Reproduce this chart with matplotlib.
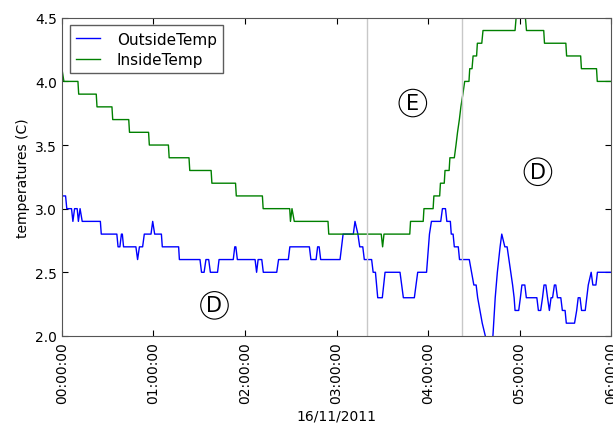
import matplotlib
matplotlib.use("Agg")
import matplotlib.pyplot as plt
import matplotlib.dates as mdates
import pandas as pd

# minutes after midnight and temperatures
inside_min = [0, 1.3, 10.5, 11, 22.5, 23, 32.8, 33.3, 43.8, 44.3, 56.8, 57.3, 69.8, 70.3,
              83.3, 83.8, 97.8, 98.3, 113.8, 114.3, 131.4, 131.9, 149.3, 149.8, 150.8,
              152.3, 174.4, 174.9, 209.3, 210.2, 211.1, 228, 228.5, 236.8, 237.3, 243.3,
              243.8, 247.6, 248.1, 250.6, 251.1, 253.8, 254.3, 257.2, 258.3, 259.3, 260.5,
              261.5, 262.8, 264, 266.8, 267.3, 268.8, 269.5, 271.8, 272.3, 275.2, 276,
              297, 297.7, 303.8, 304.5, 315.8, 316.3, 330.3, 330.8, 340, 340.5, 350.4,
              350.9, 360]
inside_val = [4.1, 4.0, 4.0, 3.9, 3.9, 3.8, 3.8, 3.7, 3.7, 3.6, 3.6, 3.5, 3.5, 3.4,
              3.4, 3.3, 3.3, 3.2, 3.2, 3.1, 3.1, 3.0, 3.0, 2.9, 3.0,
              2.9, 2.9, 2.8, 2.8, 2.7, 2.8, 2.8, 2.9, 2.9, 3.0, 3.0,
              3.1, 3.1, 3.2, 3.2, 3.3, 3.3, 3.4, 3.4, 3.5, 3.6, 3.7,
              3.8, 3.9, 4.0, 4.0, 4.1, 4.1, 4.2, 4.2, 4.3, 4.3, 4.4,
              4.4, 4.5, 4.5, 4.4, 4.4, 4.3, 4.3, 4.2, 4.2, 4.1, 4.1,
              4.0, 4.0]

outside_min = [0, 2.4, 3.2, 6.3, 7.2, 8.3, 10.0, 10.8, 11.9, 13.3, 25.2, 25.8, 36.0, 36.8,
               38.0, 39.0, 39.6, 40.4, 48.5, 49.6, 50.8, 52.9, 54.0, 58.4, 59.5, 60.8,
               65.2, 65.8, 76.5, 77.0, 90.5, 91.5, 93.2, 94.4, 96.2, 97.3, 102, 103,
               112.3, 113.3, 114, 115, 126.6, 127.6, 128.6, 131, 132, 140.8, 142, 148.4,
               149.4, 162.2, 163.2, 166.6, 167.6, 168.6, 169.6, 182.3, 184.3, 191, 192.1,
               194, 195.2, 197.2, 198.2, 203, 204, 205.5, 207, 210, 211.8, 221.6, 222.7,
               223.8, 231, 233.2, 239, 240.9, 242.2, 248.3, 249.4, 251.4, 252.3, 254.6,
               255.2, 256.4, 257.2, 259.8, 260.6, 267, 268.5, 270, 271.5, 272.5, 274,
               275.5, 277.5, 280, 282.5, 284, 285.4, 287.2, 288.3, 290.3, 291.8, 293,
               294.2, 295.4, 296.4, 297, 299.4, 300.5, 301.5, 303.4, 304.4, 311.3, 312.3,
               313.8, 315, 316, 317.2, 318.3, 319.5, 320.6, 321.6, 322.8, 323.7, 324.8,
               327, 328, 329.8, 330.6, 336, 337.4, 338.4, 339.6, 340.6, 343, 344, 345,
               346.9, 348, 350, 351, 360]
outside_val = [3.1, 3.1, 3.0, 3.0, 2.9, 3.0, 3.0, 2.9, 3.0, 2.9, 2.9, 2.8, 2.8, 2.7,
               2.7, 2.8, 2.8, 2.7, 2.7, 2.6, 2.7, 2.7, 2.8, 2.8, 2.9, 2.8,
               2.8, 2.7, 2.7, 2.6, 2.6, 2.5, 2.5, 2.6, 2.6, 2.5, 2.5, 2.6,
               2.6, 2.7, 2.7, 2.6, 2.6, 2.5, 2.6, 2.6, 2.5, 2.5, 2.6, 2.6,
               2.7, 2.7, 2.6, 2.6, 2.7, 2.7, 2.6, 2.6, 2.8, 2.8, 2.9,
               2.8, 2.7, 2.7, 2.6, 2.6, 2.5, 2.5, 2.3, 2.3, 2.5, 2.5, 2.4,
               2.3, 2.3, 2.5, 2.5, 2.8, 2.9, 2.9, 3.0, 3.0, 2.9, 2.9,
               2.8, 2.8, 2.7, 2.7, 2.6, 2.6, 2.5, 2.4, 2.4, 2.3, 2.2,
               2.1, 2.0, 1.9, 2.0, 2.3, 2.5, 2.7, 2.8, 2.7, 2.7, 2.6,
               2.5, 2.4, 2.3, 2.2, 2.2, 2.3, 2.4, 2.4, 2.3, 2.3, 2.2,
               2.2, 2.3, 2.4, 2.4, 2.3, 2.2, 2.3, 2.3, 2.4, 2.4, 2.3,
               2.3, 2.2, 2.2, 2.1, 2.1, 2.2, 2.3, 2.3, 2.2, 2.2, 2.3, 2.4,
               2.5, 2.4, 2.4, 2.5, 2.5]

# phase boundaries (minutes) and labels
phase_lines = [200, 262]
phase_labels = ["D", "E", "D"]
phase_pos = [(100, 2.24), (230, 3.83), (312, 3.29)]

day = pd.Timestamp("2011-11-16")
to_time = lambda m: [day + pd.Timedelta(minutes=float(v)) for v in m]

fig = plt.figure(figsize=(6.13, 4.27), dpi=100)
ax = fig.add_axes([0.101, 0.211, 0.896, 0.745])

ax.plot(to_time(outside_min), outside_val, color="#0000ff", lw=1.0, label="OutsideTemp")
ax.plot(to_time(inside_min), inside_val, color="#008000", lw=1.0, label="InsideTemp")

for m in phase_lines:
    ax.axvline(to_time([m])[0], color="#c8c8c8", lw=1.0)

for lab, (m, v) in zip(phase_labels, phase_pos):
    ax.text(to_time([m])[0], v, lab, fontsize=15, ha="center", va="center",
            bbox=dict(boxstyle="circle,pad=0.18", fc="white", ec="black", lw=0.8))

ax.set_xlim(day, day + pd.Timedelta(hours=6))
ax.set_ylim(2.0, 4.5)
ax.set_yticks([2.0, 2.5, 3.0, 3.5, 4.0, 4.5])
ax.xaxis.set_major_locator(mdates.HourLocator())
ax.xaxis.set_major_formatter(mdates.DateFormatter("%H:%M:%S"))
ax.tick_params(direction="in", top=True, right=True, labelsize=10, length=4)
plt.setp(ax.get_xticklabels(), rotation=90)
ax.set_xlabel("16/11/2011", fontsize=10)
ax.set_ylabel("temperatures (C)", fontsize=10)
for s in ax.spines.values():
    s.set_color("#555555")

leg = ax.legend(loc="upper left", fontsize=11, fancybox=False, handlelength=1.6,
                handletextpad=1.1, borderaxespad=0.5, labelspacing=0.35)
leg.get_frame().set_edgecolor("#333333")

fig.savefig("out.png", dpi=100, facecolor="white")
